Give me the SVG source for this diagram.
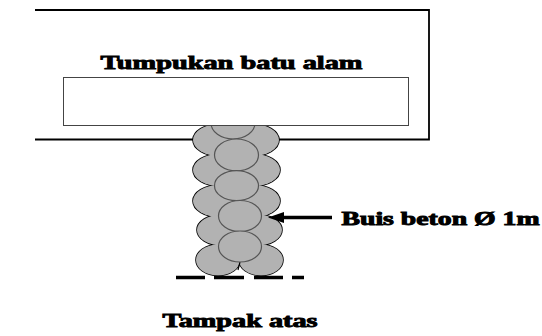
<svg xmlns="http://www.w3.org/2000/svg" width="542" height="336" viewBox="0 0 542 336">
<style>
.t{font-family:"Liberation Serif","Times New Roman",serif;font-weight:bold;fill:#000;stroke:#000;stroke-width:.9}
.s{fill:#b2b2b2;stroke:#000;stroke-width:1.6}
.f{fill:#b2b2b2}
.c{fill:#b2b2b2;stroke:#555;stroke-width:1.2}
.l{fill:none;stroke:#000;stroke-width:1.8}
</style>
<defs>
<g id="sides">
<ellipse cx="219" cy="140" rx="26" ry="16"/><ellipse cx="253" cy="140" rx="26" ry="16"/>
<ellipse cx="219" cy="170" rx="26" ry="16"/><ellipse cx="254" cy="170" rx="26" ry="16"/>
<ellipse cx="219" cy="201" rx="26" ry="16"/><ellipse cx="254" cy="201" rx="26" ry="16"/>
<ellipse cx="222" cy="230" rx="25" ry="15.500"/><ellipse cx="257" cy="230" rx="25" ry="15.500"/>
<ellipse cx="218" cy="260" rx="22" ry="15.500"/><ellipse cx="261" cy="260" rx="22" ry="15.500"/>
</g>
</defs>
<rect width="542" height="336" fill="#fff"/>
<g id="pad-outline"><path class="l" d="M35 10H429V139.500H35"/></g>
<g id="buis-stack">
<use href="#sides" class="s"/>
<use href="#sides" class="f"/>
<path d="M240 262L238 270" fill="none" stroke="#000" stroke-width="1.200"/>
<ellipse class="c" cx="233" cy="123" rx="22" ry="16"/>
<ellipse class="c" cx="236.500" cy="155" rx="22" ry="16"/>
<ellipse class="c" cx="236.500" cy="185.700" rx="22" ry="15"/>
<ellipse class="c" cx="240" cy="216" rx="21.500" ry="15.500"/>
<ellipse class="c" cx="240" cy="246.500" rx="21.500" ry="15.500"/>
</g>
<g id="tumpukan">
<rect x="63.500" y="77.500" width="345" height="48" fill="#fff" stroke="#444" stroke-width="1"/>
<text class="t" x="100.500" y="69" font-size="19" textLength="262" lengthAdjust="spacingAndGlyphs">Tumpukan batu alam</text>
</g>
<g id="connectors">
<path d="M176 277.500H205M214 277.500H244M254 277.500H283M292 277.500H304" fill="none" stroke="#000" stroke-width="3.500"/>
<path d="M332 217.500H282" fill="none" stroke="#000" stroke-width="3.500"/>
<path d="M268 217.500L284 212V223Z" fill="#000"/>
</g>
<g id="buis-label"><text class="t" x="341.500" y="225" font-size="18" textLength="198" lengthAdjust="spacingAndGlyphs">Buis beton Ø 1m</text></g>
<g id="caption"><text class="t" x="162.500" y="327" font-size="18" textLength="155" lengthAdjust="spacingAndGlyphs">Tampak atas</text></g>
</svg>
